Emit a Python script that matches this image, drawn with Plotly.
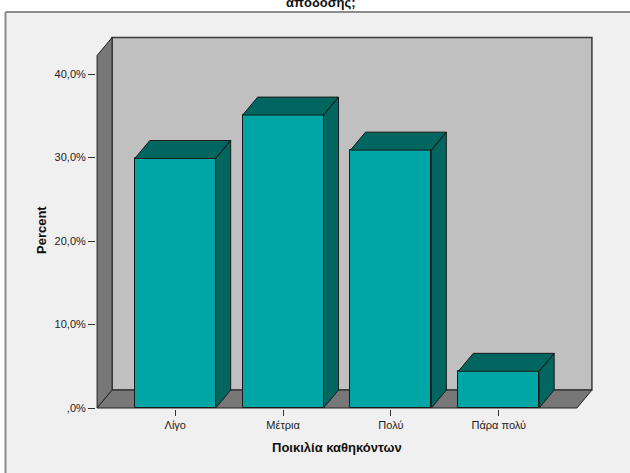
import plotly.graph_objects as go

# Data
categories = ["Λίγο", "Μέτρια", "Πολύ", "Πάρα πολύ"]
percent = [29.9, 35.1, 30.9, 4.4]
y_ticks = [0, 10, 20, 30, 40]
y_tick_labels = [",0%", "10,0%", "20,0%", "30,0%", "40,0%"]

# Style
FONT = "Liberation Sans, Arial, sans-serif"
FRONT = "#00A6A6"
SHADE = "#00665F"
EDGE = "#1A1A1A"
WALL = "#C0C0C0"
FLOOR = "#777777"
BG = "#F0F0F0"
FRAME = "#8C8C8C"

# Pseudo-3D geometry, in axis units
X0, X1 = -0.725, 3.725   # front edge of the floor
DX, DY = 0.139, 2.15     # depth offset towards the back wall
Y_TOP = 42.24            # top of the front edge of the left wall
BAR_W = 0.75

W, H = 630, 473
ML, MR, MT, MB = 96, 37, 35, 64
PW, PH = W - ML - MR, H - MT - MB


def px_x(p):
    return (p - ML) / PW


def px_y(p):
    return (H - MB - p) / PH


xs = list(range(len(categories)))

fig = go.Figure()

# front faces of the bars
fig.add_trace(go.Bar(
    x=xs, y=percent, width=BAR_W,
    marker=dict(color=FRONT, line=dict(color=EDGE, width=1)),
    hoverinfo="skip", showlegend=False,
))

# top and right faces of the bars
fx, fy = [], []
for x, v in zip(xs, percent):
    l, r = x - BAR_W / 2, x + BAR_W / 2
    fx += [l, r, r + DX, l + DX, l, None]
    fy += [v, v, v + DY, v + DY, v, None]
    fx += [r, r + DX, r + DX, r, r, None]
    fy += [0, DY, v + DY, v, 0, None]
fig.add_trace(go.Scatter(
    x=fx, y=fy, mode="lines", fill="toself", fillcolor=SHADE,
    line=dict(color=EDGE, width=1), hoverinfo="skip", showlegend=False,
))

fx0, fy1 = px_x(5.5), px_y(12)
fx1, fy0 = px_x(W + 10), px_y(H + 10)
shapes = [
    # chart frame: filled panel plus its left and top edges
    dict(type="rect", xref="paper", yref="paper",
         x0=fx0, x1=fx1, y0=fy0, y1=fy1,
         fillcolor=BG, line=dict(width=0), layer="below"),
    dict(type="line", xref="paper", yref="paper",
         x0=fx0, x1=fx0, y0=fy0, y1=fy1,
         line=dict(color=FRAME, width=2), layer="below"),
    dict(type="line", xref="paper", yref="paper",
         x0=fx0, x1=fx1, y0=fy1, y1=fy1,
         line=dict(color=FRAME, width=2), layer="below"),
    # back wall
    dict(type="rect", xref="x", yref="y",
         x0=X0 + DX, x1=X1 + DX, y0=DY, y1=Y_TOP + DY,
         fillcolor=WALL, line=dict(color="#3A3A3A", width=1.5), layer="below"),
    # left wall
    dict(type="path", xref="x", yref="y",
         path=f"M {X0},0 L {X0},{Y_TOP} L {X0 + DX},{Y_TOP + DY} L {X0 + DX},{DY} Z",
         fillcolor=FLOOR, line=dict(color="#222222", width=1), layer="below"),
    # floor
    dict(type="path", xref="x", yref="y",
         path=f"M {X0},0 L {X1},0 L {X1 + DX},{DY} L {X0 + DX},{DY} Z",
         fillcolor=FLOOR, line=dict(color="#222222", width=1), layer="below"),
]

annotations = [
    dict(text="<b>Ποικιλία καθηκόντων</b>", xref="x", yref="paper",
         x=1.5, y=px_y(447), xanchor="center", yanchor="middle",
         showarrow=False, font=dict(family=FONT, size=13, color="#111111")),
    dict(text="<b>Percent</b>", xref="paper", yref="paper",
         x=px_x(41), y=px_y(230), xanchor="center", yanchor="middle",
         textangle=-90, showarrow=False,
         font=dict(family=FONT, size=13, color="#111111")),
    dict(text="<b>απόδοσης;</b>", xref="paper", yref="paper",
         x=px_x(321), y=px_y(2), xanchor="center", yanchor="middle",
         showarrow=False, font=dict(family=FONT, size=13, color="#111111")),
]

fig.update_layout(
    width=W, height=H,
    margin=dict(l=ML, r=MR, t=MT, b=MB, pad=0),
    paper_bgcolor="white",
    plot_bgcolor="rgba(0,0,0,0)",
    shapes=shapes,
    annotations=annotations,
    showlegend=False,
    bargap=0,
    xaxis=dict(
        range=[X0 - 0.01, X1 + DX + 0.01],
        tickvals=xs, ticktext=categories,
        ticks="outside", ticklen=6, tickcolor="#333333", tickwidth=1,
        showline=False, showgrid=False, zeroline=False,
        tickfont=dict(family=FONT, size=11, color="#222222"),
        fixedrange=True,
    ),
    yaxis=dict(
        range=[-0.12, Y_TOP + DY + 0.3],
        tickvals=y_ticks, ticktext=y_tick_labels,
        ticks="outside", ticklen=7, tickcolor="#333333", tickwidth=1,
        showline=False, showgrid=False, zeroline=False,
        tickfont=dict(family=FONT, size=11, color="#222222"),
        fixedrange=True,
    ),
)

fig.write_html("out.html")
